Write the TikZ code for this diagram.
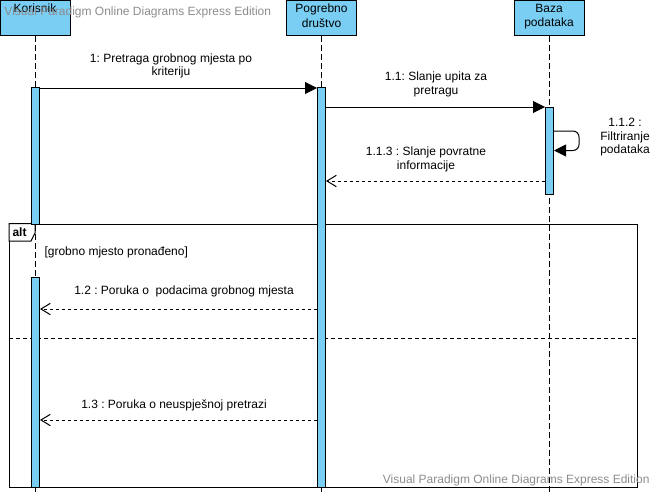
\documentclass[tikz,border=0pt]{standalone}
\usepackage{fontspec}
\setmainfont{Liberation Sans}
\usetikzlibrary{arrows.meta}
\definecolor{lifeblue}{RGB}{122,206,244}
\definecolor{wmgray}{RGB}{140,140,140}
\frenchspacing
\begin{document}
\begin{tikzpicture}[x=0.75pt,y=-0.75pt,line width=0.75pt,font=\fontsize{9}{10}\selectfont,
    actor/.style={draw,fill=lifeblue,minimum width=52.5pt,minimum height=26.25pt,anchor=north,inner sep=0pt},
    actorname/.style={anchor=north,align=center,inner sep=0pt,font=\fontsize{9}{11}\selectfont},
    act/.style={draw,fill=lifeblue,minimum width=6pt,anchor=north,inner sep=0pt},
    life/.style={dash pattern=on 4.5pt off 2.25pt},
    call/.style={-{Triangle[length=9pt,width=9pt]}},
    reply/.style={dash pattern=on 2.25pt off 2.25pt,-{Straight Barb[length=7pt,width=8.5pt]}},
    lbl/.style={align=center,inner sep=0pt,anchor=south},
    wm/.style={text=wmgray,inner sep=0pt}]
    \useasboundingbox (0,0) rectangle (655,492);
    % ucesnici
    \foreach \n/\x/\t in {kor/35/Korisnik,pog/321.5/Pogrebno\\društvo,baza/549/Baza\\podataka}{
        \node[actor] (\n) at (\x,0) {};
        \node[actorname] (\n t) at ([yshift=-2.6pt]\n.north) {\t};
        \draw[life] (\n.south) -- (\n.south |- 0,492);
    }
    % alt okvir
    \node[draw,minimum width=471pt,minimum height=197.6pt,anchor=north west,inner sep=0pt] (alt) at (9,223.5) {};
    \draw[fill=white] (alt.north west) -- (35,223.5) -- (35,233) -- (31,241) -- (alt.west |- 0,241) -- cycle;
    \node[anchor=west,inner sep=0pt,font=\fontsize{9}{10}\selectfont\bfseries] (altt) at (12,232) {alt};
    \draw[dash pattern=on 3pt off 2.25pt] (alt.west |- 0,338) -- (alt.east |- 0,338);
    \node[anchor=west,inner sep=0pt] (guard) at (44,252.5) {[grobno mjesto pronađeno]};
    % aktivacije
    \node[act,minimum height=102.75pt] (aK1) at (35.5,87) {};
    \node[act,minimum height=157.5pt] (aK2) at (35.5,277) {};
    \node[act,minimum height=300pt] (aP) at (321.5,87) {};
    \node[act,minimum height=65.25pt] (aB) at (549.5,107) {};
    % poruke
    \draw[call] (aK1.east |- 0,88) -- (aP.west |- 0,88);
    \draw[call] (aP.east |- 0,107) -- (aB.west |- 0,107);
    \draw[call,rounded corners=4.5pt] (aB.east |- 0,131) -- (579,131) -- (579,150.5) -- (aB.east |- 0,150.5);
    \draw[reply] (aB.west |- 0,181) -- (aP.east |- 0,181);
    \draw[reply] (aP.west |- 0,309) -- (aK2.east |- 0,309);
    \draw[reply] (aP.west |- 0,420) -- (aK2.east |- 0,420);
    \path
    foreach \x/\y/\t in {171/78.5/1: Pretraga grobnog mjesta po\\kriteriju,436/97/1.1: Slanje upita za\\pretragu,
        426/172/1.1.3 : Slanje povratne\\informacije,184/297.5/1.2 : Poruka o\ \ podacima grobnog mjesta,
        174/411.5/1.3 : Poruka o neuspješnoj pretrazi} {(\x,\y) node[lbl] {\t}};
    \node[align=center,inner sep=0pt,anchor=north,font=\fontsize{9}{10.1}\selectfont] (selft) at (625,118) {1.1.2 :\\Filtriranje\\podataka};
    % vodeni zig
    \node[wm,anchor=west] (wm1) at (4,12.5) {Visual Paradigm Online Diagrams Express Edition};
    \node[wm,anchor=east] (wm2) at (650,480.5) {Visual Paradigm Online Diagrams Express Edition};
\end{tikzpicture}
\end{document}
